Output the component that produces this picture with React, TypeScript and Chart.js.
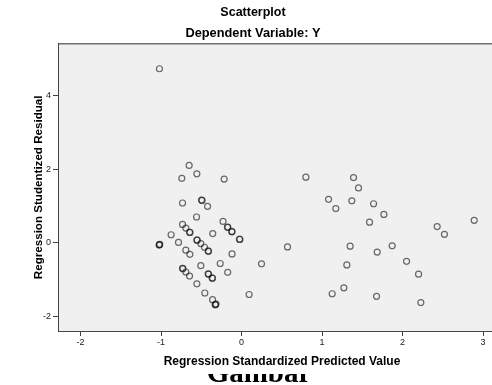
import React, { useEffect, useRef } from "react";
import { Chart, registerables } from "chart.js";

Chart.register(...registerables);

const chartTitle = "Scatterplot";
const chartSubtitle = "Dependent Variable: Y";
const xAxisTitle = "Regression Standardized Predicted Value";
const yAxisTitle = "Regression Studentized Residual";
const captionText = "Gambar";

const xTickStep = 1;
const yTickStep = 2;

// Regression Standardized Predicted Value
const predicted: number[] = [
  -1.02, -0.651, -0.742, -0.555, -0.216, -0.733, -0.497, -0.49, -0.422, -0.559,
  -0.733, -0.692, -0.646, -0.64, -0.875, -0.358, -0.23, -0.175, -0.17, -0.122,
  -0.118, -0.026, -0.02, -1.02, -1.016, -1.024, -0.783, -0.555, -0.55, -0.506,
  -0.46, -0.415, -0.41, -0.692, -0.642, -0.118, 0.248, -0.265, -0.506, -0.733,
  -0.728, -0.692, -0.646, -0.415, -0.41, -0.366, -0.36, -0.172, -0.555, -0.456,
  0.094, -0.36, -0.323, -0.318, -0.328,
  0.799, 1.391, 1.453, 1.081, 1.171, 1.37, 1.64, 1.768, 1.59, 2.43,
  2.52, 2.89, 0.571, 1.349, 1.685, 1.871, 1.308, 2.05, 2.199, 1.271,
  1.126, 1.677, 2.227,
];

// Regression Studentized Residual
const residual: number[] = [
  4.72, 2.1, 1.75, 1.87, 1.73, 1.08, 1.16, 1.15, 0.99, 0.7,
  0.5, 0.4, 0.29, 0.28, 0.22, 0.25, 0.58, 0.43, 0.42, 0.31,
  0.3, 0.1, 0.09, -0.05, -0.04, -0.06, 0.01, 0.08, 0.07, -0.02,
  -0.12, -0.22, -0.23, -0.2, -0.31, -0.3, -0.57, -0.56, -0.62, -0.69,
  -0.7, -0.79, -0.9, -0.84, -0.85, -0.95, -0.96, -0.8, -1.11, -1.36,
  -1.4, -1.54, -1.67, -1.66, -1.68,
  1.78, 1.77, 1.49, 1.18, 0.93, 1.14, 1.06, 0.77, 0.56, 0.44,
  0.23, 0.61, -0.11, -0.09, -0.25, -0.08, -0.6, -0.5, -0.85, -1.22,
  -1.38, -1.45, -1.62,
];

const xRange = [-2.28, 3.285];
const yRange = [-2.39, 5.4];

const plotBackground = {
  id: "plotBackground",
  beforeDraw(chart: any) {
    const { ctx, chartArea } = chart;
    if (!chartArea) return;
    ctx.save();
    ctx.fillStyle = "#f0f0f0";
    ctx.fillRect(chartArea.left, chartArea.top, chartArea.right - chartArea.left, chartArea.bottom - chartArea.top);
    ctx.strokeStyle = "#6e6e6e";
    ctx.lineWidth = 1.5;
    ctx.beginPath();
    ctx.moveTo(chartArea.left, chartArea.top);
    ctx.lineTo(chartArea.right, chartArea.top);
    ctx.lineTo(chartArea.right, chartArea.bottom);
    ctx.stroke();
    ctx.restore();
  },
};

export default function App() {
  const canvasRef = useRef<HTMLCanvasElement | null>(null);

  useEffect(() => {
    const canvas = canvasRef.current;
    if (!canvas) return;
    const points = predicted.map((x, i) => ({ x, y: residual[i] }));
    const font = "Arial, 'Liberation Sans', sans-serif";
    const chart = new Chart(canvas, {
      type: "scatter",
      data: {
        datasets: [
          {
            data: points,
            pointStyle: "circle",
            pointRadius: 3,
            pointHoverRadius: 3,
            pointBorderWidth: 1.2,
            pointBackgroundColor: "rgba(0,0,0,0)",
            pointBorderColor: "rgba(20,20,20,0.62)",
          },
        ],
      },
      options: {
        animation: false,
        responsive: false,
        devicePixelRatio: 1,
        events: [],
        layout: { padding: { left: 0, right: 18, top: 0, bottom: 14 } },
        plugins: {
          legend: { display: false },
          tooltip: { enabled: false },
          title: {
            display: true,
            text: chartTitle,
            color: "#000",
            font: { family: font, size: 12.5, weight: "bold", lineHeight: 1.2 },
            padding: { top: 5, bottom: 6 },
          },
          subtitle: {
            display: true,
            text: chartSubtitle,
            color: "#000",
            font: { family: font, size: 12.8, weight: "bold", lineHeight: 1.2 },
            padding: { top: 0, bottom: 2.3 },
          },
        },
        scales: {
          x: {
            type: "linear",
            min: xRange[0],
            max: xRange[1],
            afterFit(scale: any) {
              scale.height = 40;
            },
            ticks: {
              stepSize: xTickStep,
              includeBounds: false,
              color: "#222",
              padding: 1,
              font: { family: font, size: 9 },
              maxRotation: 0,
            },
            grid: { drawOnChartArea: false, drawTicks: true, tickLength: 5, color: "#444" },
            border: { display: true, color: "#444", width: 1 },
            title: {
              display: true,
              text: xAxisTitle,
              color: "#000",
              font: { family: font, size: 12, weight: "bold", lineHeight: 1.2 },
              padding: { top: 0, bottom: 2.5 },
            },
          },
          y: {
            type: "linear",
            min: yRange[0],
            max: yRange[1],
            afterFit(scale: any) {
              scale.width = 58;
            },
            ticks: {
              stepSize: yTickStep,
              includeBounds: false,
              color: "#222",
              padding: 2,
              font: { family: font, size: 9 },
            },
            grid: { drawOnChartArea: false, drawTicks: true, tickLength: 5, color: "#444" },
            border: { display: true, color: "#444", width: 1 },
            title: {
              display: true,
              text: yAxisTitle,
              color: "#000",
              font: { family: font, size: 11.6, weight: "bold", lineHeight: 1.2 },
              padding: { top: 32, bottom: 0 },
            },
          },
        },
      },
      plugins: [plotBackground],
    });
    return () => chart.destroy();
  }, []);

  return (
    <div
      style={{
        position: "fixed",
        left: 0,
        top: 0,
        width: 492,
        height: 385,
        overflow: "hidden",
        background: "#fff",
      }}
    >
      <div style={{ position: "absolute", left: 0, top: 0, width: 524, height: 385 }}>
        <canvas ref={canvasRef} width={524} height={385} style={{ width: 524, height: 385, display: "block" }} />
      </div>
      <div style={{ position: "absolute", left: 0, top: 374, width: 492, height: 11, overflow: "hidden" }}>
        <span
          style={{
            position: "absolute",
            left: 259,
            top: -16.5,
            transform: "translateX(-50%)",
            whiteSpace: "nowrap",
            fontFamily: "'Liberation Serif', 'Times New Roman', serif",
            fontWeight: "bold",
            fontSize: 29,
            lineHeight: "29px",
            color: "#000",
          }}
        >
          {captionText}
        </span>
      </div>
    </div>
  );
}
